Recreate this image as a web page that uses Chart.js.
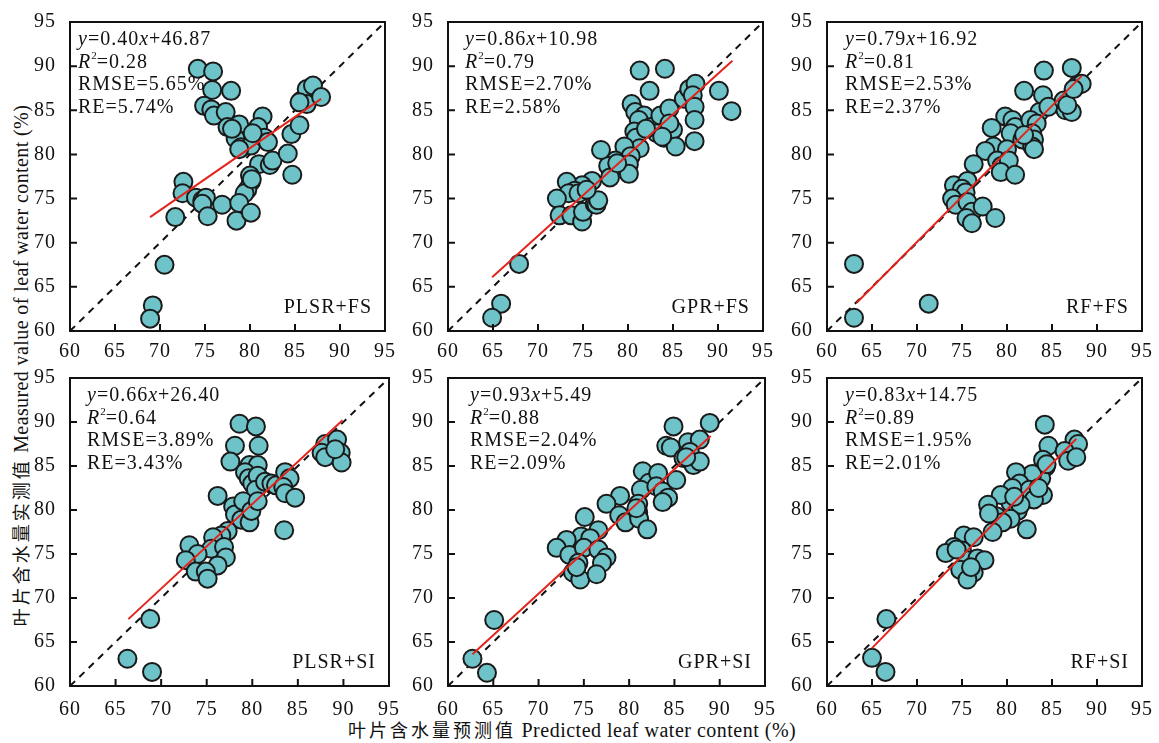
<!DOCTYPE html>
<html>
<head>
<meta charset="utf-8">
<script src="https://cdn.jsdelivr.net/npm/chart.js@4.4.0/dist/chart.umd.min.js"></script>
<style>
  body { margin: 0; background: #fff; width: 1159px; height: 743px; position: relative; overflow: hidden;
         font-family: "Liberation Serif", "Times New Roman", serif; color: #111; }
  .panel { position: absolute; }
  .stats { position: absolute; font-size: 20px; line-height: 22.5px; letter-spacing: 1px; white-space: nowrap; }
  .stats sup { font-size: 11px; line-height: 0; vertical-align: 9px; letter-spacing: 0; }
  .model { position: absolute; font-size: 20px; line-height: 22px; letter-spacing: 1px; white-space: nowrap; text-align: right; }
  .zh { font-family: "Noto Sans CJK SC", sans-serif; font-size: 18px; letter-spacing: 3px; }
  .xtitle { position: absolute; left: 348px; top: 717px; font-size: 20px; line-height: 24px; white-space: nowrap; letter-spacing: 0.5px; }
  .ytitle { position: absolute; left: -280px; top: 353px; width: 600px; text-align: center; font-size: 20px; line-height: 24px;
            white-space: nowrap; letter-spacing: 0.4px; transform: rotate(-90deg); }
</style>
</head>
<body>
<div class="ytitle"><span class="zh">叶片含水量实测值</span> Measured value of leaf water content (%)</div>
<div class="xtitle"><span class="zh">叶片含水量预测值</span> Predicted leaf water content (%)</div>
<script>
// ---- data: [predicted, measured] ----
const plsrFs = [
  [74.2, 89.7], [75.9, 89.4], [75.8, 87.3], [77.9, 87.2], [74.9, 85.5], [75.7, 85.1], [76.0, 84.4],
  [77.3, 84.8], [77.5, 83.1], [78.8, 83.4], [81.4, 84.3], [80.9, 83.1], [78.4, 81.8], [79.0, 80.8],
  [80.1, 81.0], [81.6, 81.9], [78.8, 80.6], [81.0, 78.9], [82.2, 78.8], [82.5, 79.3], [84.6, 82.3],
  [84.2, 80.1], [84.7, 77.7], [85.5, 83.3], [85.7, 86.1], [86.3, 87.4], [87.0, 87.8], [86.3, 85.7],
  [87.9, 86.5], [85.5, 85.9], [80.0, 77.6], [80.1, 76.9], [79.7, 76.0], [79.4, 75.6], [80.2, 77.2],
  [72.6, 76.9], [72.5, 75.6], [74.0, 75.1], [74.7, 74.8], [75.1, 75.1], [74.7, 74.4], [75.3, 73.0],
  [76.9, 74.3], [78.8, 74.5], [78.5, 72.5], [80.1, 73.4], [71.7, 72.9], [78.0, 82.9], [80.3, 82.4],
  [82.0, 81.4], [70.5, 67.5], [69.2, 62.9], [68.9, 61.4]
];
const gprFs = [
  [81.3, 89.5], [84.1, 89.7], [82.4, 87.2], [90.1, 87.2], [91.5, 84.9], [80.4, 85.7], [80.8, 84.8],
  [81.8, 84.4], [81.2, 83.9], [80.7, 82.6], [80.9, 81.9], [81.3, 80.7], [82.5, 83.1], [83.6, 84.4],
  [84.6, 85.2], [83.2, 82.4], [84.0, 81.9], [85.0, 82.8], [85.3, 80.9], [84.6, 83.5], [86.2, 86.3],
  [86.8, 87.4], [87.5, 88.0], [87.2, 86.7], [87.4, 85.4], [87.4, 83.9], [87.4, 81.5], [79.6, 80.9],
  [80.3, 79.8], [80.1, 78.9], [80.1, 77.8], [78.6, 79.3], [77.8, 78.7], [78.0, 77.4], [77.0, 80.5],
  [76.0, 77.0], [74.9, 76.5], [73.2, 76.9], [74.1, 75.9], [73.4, 75.6], [74.5, 75.6], [72.1, 75.0],
  [72.4, 73.1], [73.7, 73.1], [74.9, 72.4], [75.0, 73.5], [76.3, 74.4], [76.5, 74.3], [76.7, 74.8],
  [83.8, 82.0], [82.0, 82.9], [78.8, 79.0], [75.4, 76.0], [67.9, 67.6], [65.9, 63.1], [64.9, 61.5]
];
const rfFs = [
  [84.1, 89.5], [87.2, 89.8], [81.9, 87.2], [84.0, 86.7], [83.6, 84.8], [84.6, 85.4], [86.3, 86.1],
  [86.5, 85.0], [87.2, 84.8], [86.7, 85.6], [87.8, 87.8], [88.3, 88.0], [87.4, 87.4], [79.8, 84.3],
  [80.6, 83.9], [80.9, 83.1], [78.3, 83.0], [80.4, 82.4], [81.7, 81.7], [82.6, 83.9], [83.3, 83.5],
  [82.8, 82.4], [83.0, 81.7], [82.8, 80.9], [83.0, 80.6], [81.9, 82.2], [78.5, 80.9], [77.6, 80.4],
  [80.0, 80.6], [78.9, 79.3], [79.4, 78.7], [80.2, 79.3], [79.3, 78.0], [80.9, 77.7], [76.3, 78.9],
  [74.1, 76.5], [75.6, 77.0], [75.0, 76.1], [75.4, 75.7], [73.9, 75.0], [74.3, 74.3], [75.6, 74.6],
  [76.1, 73.5], [75.5, 72.8], [76.1, 72.2], [77.3, 74.1], [78.7, 72.8], [63.0, 67.6], [71.3, 63.1],
  [63.0, 61.5]
];
const plsrSi = [
  [78.6, 89.8], [80.4, 89.5], [78.1, 87.3], [80.7, 87.3], [77.6, 85.5], [79.7, 85.1], [80.6, 85.1],
  [79.2, 84.3], [79.6, 83.6], [80.0, 83.0], [80.6, 83.9], [80.4, 82.3], [81.4, 83.2], [82.1, 83.0],
  [82.6, 82.8], [83.6, 84.3], [84.1, 83.6], [83.4, 82.6], [83.6, 81.9], [84.7, 81.4], [83.5, 77.7],
  [76.2, 81.6], [77.9, 80.4], [78.1, 79.5], [79.0, 81.0], [78.8, 78.9], [79.7, 78.6], [79.9, 79.9],
  [80.6, 81.0], [77.3, 77.6], [76.6, 77.1], [75.7, 76.9], [75.5, 75.6], [73.1, 76.0], [74.0, 75.0],
  [72.7, 74.3], [76.9, 75.8], [77.1, 74.6], [76.2, 73.7], [73.8, 73.0], [74.9, 73.0], [75.1, 72.2],
  [88.0, 87.5], [89.3, 88.0], [87.6, 86.5], [88.0, 86.0], [89.7, 86.5], [89.8, 85.4], [89.1, 86.9],
  [68.8, 67.6], [66.3, 63.1], [69.0, 61.6]
];
const gprSi = [
  [84.9, 89.5], [88.9, 89.9], [84.1, 87.3], [84.6, 87.1], [86.5, 87.7], [87.8, 88.0], [86.7, 86.6],
  [86.0, 85.9], [87.1, 85.1], [87.8, 85.5], [81.5, 84.4], [82.2, 83.1], [81.3, 82.3], [83.2, 84.2],
  [83.0, 82.7], [83.7, 82.1], [84.3, 81.4], [83.7, 80.9], [85.2, 83.4], [79.0, 81.6], [77.5, 80.7],
  [78.9, 79.4], [79.6, 78.6], [81.0, 80.7], [81.0, 79.7], [81.1, 79.0], [82.0, 77.8], [75.1, 79.2],
  [76.6, 77.7], [74.7, 77.0], [75.7, 76.8], [73.1, 76.6], [72.0, 75.7], [73.4, 74.9], [75.0, 75.7],
  [76.6, 75.5], [77.5, 74.6], [77.0, 74.0], [74.4, 74.0], [73.8, 72.9], [74.6, 72.1], [76.4, 72.7],
  [86.3, 86.0], [80.8, 80.2], [74.2, 73.5], [65.1, 67.5], [62.7, 63.1], [64.3, 61.5]
];
const rfSi = [
  [84.2, 89.7], [84.6, 87.3], [84.0, 85.7], [84.3, 84.9], [83.8, 83.6], [82.8, 84.1], [81.0, 84.3],
  [81.4, 83.0], [82.5, 82.3], [84.0, 81.7], [83.0, 81.2], [80.6, 82.5], [80.4, 80.8], [81.2, 79.9],
  [81.5, 80.6], [80.4, 79.0], [82.2, 77.8], [79.3, 81.7], [77.9, 80.6], [78.8, 79.3], [79.5, 78.6],
  [78.4, 77.5], [87.5, 88.0], [87.9, 87.5], [86.4, 86.7], [86.8, 85.6], [87.7, 86.0], [75.2, 77.1],
  [76.3, 76.9], [74.1, 75.8], [73.2, 75.1], [75.0, 75.4], [75.6, 74.3], [76.7, 74.5], [77.5, 74.3],
  [74.8, 73.2], [76.3, 72.9], [75.6, 72.1], [83.5, 82.5], [80.8, 81.5], [84.4, 85.2], [78.0, 79.6],
  [76.0, 73.5], [74.4, 75.5], [66.6, 67.6], [65.0, 63.2], [66.5, 61.6]
];

// fitted lines as drawn (end points)
const fitLines = [
  [[68.9, 72.9], [87.9, 86.3]],
  [[64.9, 66.1], [91.6, 90.6]],
  [[63.3, 63.2], [88.3, 88.9]],
  [[66.4, 67.6], [89.9, 90.2]],
  [[62.7, 63.6], [89.0, 88.4]],
  [[65.0, 64.3], [87.7, 88.1]]
];

const models = ['PLSR+FS', 'GPR+FS', 'RF+FS', 'PLSR+SI', 'GPR+SI', 'RF+SI'];
const slopes = ['0.40', '0.86', '0.79', '0.66', '0.93', '0.83'];
const intercepts = ['46.87', '10.98', '16.92', '26.40', '5.49', '14.75'];
const r2 = ['0.28', '0.79', '0.81', '0.64', '0.88', '0.89'];
const rmse = ['5.65', '2.70', '2.53', '3.89', '2.04', '1.95'];
const re = ['5.74', '2.58', '2.37', '3.43', '2.09', '2.01'];
const axisTicks = [60, 65, 70, 75, 80, 85, 90, 95];
const oneToOne = [60, 95];

const series = [plsrFs, gprFs, rfFs, plsrSi, gprSi, rfSi];

// plot-area boxes in page pixels
const boxes = [
  { left: 70,  top: 16,  w: 315, h: 315, tx: 8,  xpad: 1 },
  { left: 448, top: 16,  w: 315, h: 315, tx: 17, xpad: 1 },
  { left: 827, top: 16,  w: 315, h: 315, tx: 18, xpad: 1 },
  { left: 70,  top: 372, w: 319, h: 314, tx: 17, xpad: 4 },
  { left: 448, top: 372, w: 317, h: 314, tx: 22, xpad: 4 },
  { left: 827, top: 372, w: 315, h: 314, tx: 18, xpad: 4 }
];

const PAD_L = 50, PAD_T = 12, PAD_R = 14, PAD_B = 36;

// closed frame + inward tick marks
const framePlugin = {
  id: 'frame',
  beforeDraw(chart) { chart.ctx.letterSpacing = '1px'; },
  afterDatasetsDraw(chart) {
    const { ctx, chartArea: a, scales: { x, y } } = chart;
    ctx.save();
    ctx.strokeStyle = '#111';
    ctx.lineWidth = 2;
    ctx.beginPath();
    axisTicks.slice(1, -1).forEach(v => {
      const px = x.getPixelForValue(v);
      ctx.moveTo(px, a.bottom); ctx.lineTo(px, a.bottom - 7);
      const py = y.getPixelForValue(v);
      ctx.moveTo(a.left, py); ctx.lineTo(a.left + 7, py);
    });
    ctx.stroke();
    ctx.strokeRect(a.left, a.top, a.right - a.left, a.bottom - a.top);
    ctx.restore();
  }
};

function makeScale(pad, fit) {
  return {
    type: 'linear', min: 60, max: 95,
    afterBuildTicks: s => { s.ticks = axisTicks.map(v => ({ value: v })); },
    afterFit: fit,
    grid: { display: false },
    border: { display: false },
    ticks: {
      autoSkip: false, maxRotation: 0, padding: pad, color: '#111',
      font: { family: 'Liberation Serif', size: 20 }
    }
  };
}

series.forEach((pts, i) => {
  const b = boxes[i];
  const div = document.createElement('div');
  div.className = 'panel';
  div.style.left = (b.left - PAD_L) + 'px';
  div.style.top = (b.top - PAD_T) + 'px';
  div.style.width = (b.w + PAD_L + PAD_R) + 'px';
  div.style.height = (b.h + PAD_T + PAD_B) + 'px';
  const canvas = document.createElement('canvas');
  div.appendChild(canvas);
  document.body.appendChild(div);

  new Chart(canvas, {
    type: 'scatter',
    data: {
      datasets: [
        {
          data: pts.map(p => ({ x: p[0], y: p[1] })),
          backgroundColor: '#6ec3c8', borderColor: '#1a1a1a', borderWidth: 2,
          pointRadius: 9, order: 2
        },
        {
          data: oneToOne.map(v => ({ x: v, y: v })),
          showLine: true, borderColor: '#111', borderWidth: 2, borderDash: [7, 6],
          pointRadius: 0, order: 3
        },
        {
          data: fitLines[i].map(p => ({ x: p[0], y: p[1] })),
          showLine: true, borderColor: '#e3231c', borderWidth: 2,
          pointRadius: 0, order: 1
        }
      ]
    },
    options: {
      responsive: true, maintainAspectRatio: false, animation: false,
      layout: { padding: { top: PAD_T, right: PAD_R, left: 0, bottom: 0 } },
      plugins: { legend: { display: false }, tooltip: { enabled: false } },
      scales: {
        x: makeScale(b.xpad, s => { s.height = PAD_B; }),
        y: makeScale(6, s => { s.width = PAD_L; })
      }
    },
    plugins: [framePlugin]
  });

  const st = document.createElement('div');
  st.className = 'stats';
  st.style.left = (b.left + b.tx) + 'px';
  st.style.top = (b.top + 11) + 'px';
  st.innerHTML =
    `<i>y</i>=${slopes[i]}<i>x</i>+${intercepts[i]}<br>` +
    `<i>R</i><sup>2</sup>=${r2[i]}<br>` +
    `RMSE=${rmse[i]}%<br>` +
    `RE=${re[i]}%`;
  document.body.appendChild(st);

  const md = document.createElement('div');
  md.className = 'model';
  md.style.left = (b.left) + 'px';
  md.style.width = (b.w - 13) + 'px';
  md.style.top = (b.top + b.h - 36) + 'px';
  md.textContent = models[i];
  document.body.appendChild(md);
});
</script>
</body>
</html>
